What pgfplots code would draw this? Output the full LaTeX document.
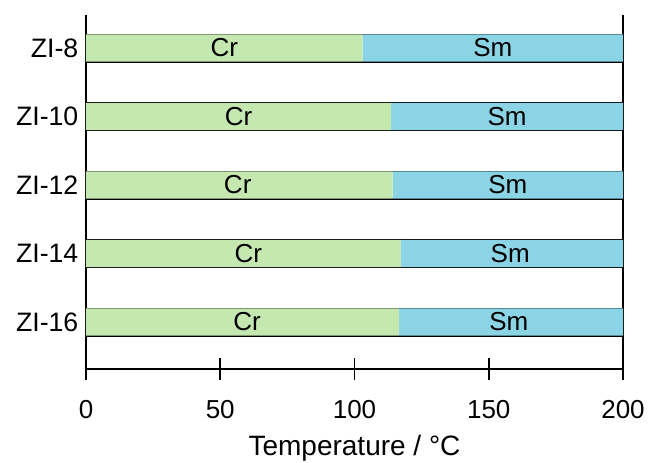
\documentclass[border=0pt]{standalone}
\usepackage{fontspec}
\setmainfont{Liberation Sans}
\usepackage{pgfplots}
\pgfplotsset{compat=1.18}
\definecolor{crgreen}{RGB}{197,232,176}
\definecolor{smblue}{RGB}{138,212,230}
\tikzset{lab/.style={font=\fontsize{19.5}{23}\selectfont, inner sep=0pt, text=black}}
\begin{document}
\begin{tikzpicture}
\begin{axis}[
  scale only axis,
  width=402.75pt, height=265.5pt,
  xmin=0, xmax=200, ymin=0.314, ymax=5.482,
  xbar stacked, bar width=0.4,
  axis line style={draw=none},
  xtick={0,50,100,150,200},
  xtick pos=bottom,
  tick align=center,
  major tick length=16.5pt,
  xtick style={line width=1.3pt, black},
  ytick={1,2,3,4,5},
  yticklabels={ZI-16,ZI-14,ZI-12,ZI-10,ZI-8},
  ytick style={draw=none},
  ticklabel style={font=\fontsize{19.5}{23}\selectfont},
  yticklabel style={font=\fontsize{20}{24}\selectfont, xshift=6pt},
  /pgf/number format/assume math mode=true,
  xticklabel style={yshift=-12pt},
  xlabel={Temperature / °C},
  xlabel style={font=\fontsize{21}{25}\selectfont, yshift=-5pt},
  clip=false,
]
\addplot[fill=crgreen, draw=none] coordinates {(116.6,1) (117.3,2) (114.2,3) (113.6,4) (103.0,5)};
\addplot[fill=smblue, draw=none] coordinates {(83.4,1) (82.7,2) (85.8,3) (86.4,4) (97.0,5)};
\addplot[black, line width=1.2pt, sharp plot, stack plots=false, unbounded coords=jump, forget plot] coordinates {
 (0,0.8) (200,0.8) (nan,nan) (0,1.2) (200,1.2) (nan,nan)
 (0,1.8) (200,1.8) (nan,nan) (0,2.2) (200,2.2) (nan,nan)
 (0,2.8) (200,2.8) (nan,nan) (0,3.2) (200,3.2) (nan,nan)
 (0,3.8) (200,3.8) (nan,nan) (0,4.2) (200,4.2) (nan,nan)
 (0,4.8) (200,4.8) (nan,nan) (0,5.2) (200,5.2)};
\draw[line width=1.2pt] (rel axis cs:0,1) -- (rel axis cs:0,0) -- (rel axis cs:1,0) -- (rel axis cs:1,1);
\coordinate (c1) at (axis cs:60.0,1);
\coordinate (c2) at (axis cs:60.5,2);
\coordinate (c3) at (axis cs:56.5,3);
\coordinate (c4) at (axis cs:56.8,4);
\coordinate (c5) at (axis cs:51.5,5);
\coordinate (s1) at (axis cs:157.5,1);
\coordinate (s2) at (axis cs:158.0,2);
\coordinate (s3) at (axis cs:157.1,3);
\coordinate (s4) at (axis cs:156.8,4);
\coordinate (s5) at (axis cs:151.5,5);
\coordinate (O) at (rel axis cs:0,0);
\end{axis}
\foreach \i in {1,...,5}{
  \node[lab] at (c\i) {Cr};
  \node[lab] at (s\i) {Sm};
}
\pgfresetboundingbox
\path ([shift={(-64.5pt,-70.5pt)}]O) rectangle ([shift={(423.75pt,276.75pt)}]O);
\end{tikzpicture}
\end{document}
